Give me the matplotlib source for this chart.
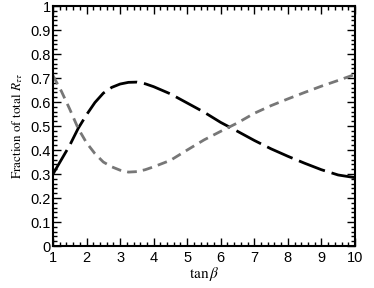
import matplotlib
matplotlib.use("Agg")
import matplotlib.pyplot as plt
from matplotlib.ticker import MultipleLocator, FuncFormatter

tan_beta = [1.0, 1.25, 1.5, 1.75, 2.0, 2.25, 2.5, 2.75, 3.0, 3.25, 3.5, 3.75, 4.0,
            4.5, 5.0, 5.5, 6.0, 6.5, 7.0, 7.5, 8.0, 8.5, 9.0, 9.5, 10.0]
frac_black = [0.30, 0.36, 0.42, 0.49, 0.547, 0.598, 0.637, 0.661, 0.675, 0.682, 0.683,
              0.676, 0.664, 0.634, 0.596, 0.558, 0.515, 0.478, 0.44, 0.405, 0.374,
              0.345, 0.318, 0.296, 0.285]
frac_gray = [0.71, 0.645, 0.57, 0.49, 0.43, 0.385, 0.35, 0.33, 0.316, 0.308, 0.310,
             0.318, 0.330, 0.357, 0.400, 0.442, 0.478, 0.513, 0.553, 0.585, 0.613,
             0.640, 0.666, 0.690, 0.715]

plt.rcParams['mathtext.fontset'] = 'stix'
fig = plt.figure(figsize=(3.74, 2.88), dpi=100)
ax = fig.add_axes([0.1417, 0.1458, 0.949 - 0.1417, 0.979 - 0.1458])

ax.plot(tan_beta, frac_black, color='black', lw=2.0, dashes=(10, 2.5), solid_capstyle='butt')
ax.plot(tan_beta, frac_gray, color='#777777', lw=2.0, dashes=(3.5, 2.2), solid_capstyle='butt')

ax.set_xlim(1, 10)
ax.set_ylim(0, 1)
ax.xaxis.set_major_locator(MultipleLocator(1))
ax.xaxis.set_minor_locator(MultipleLocator(0.2))
ax.yaxis.set_major_locator(MultipleLocator(0.1))
ax.yaxis.set_minor_locator(MultipleLocator(0.02))
ax.yaxis.set_major_formatter(FuncFormatter(lambda v, p: ('%.1f' % v).rstrip('0').rstrip('.') if v not in (0, 1) else '%d' % round(v)))
ax.tick_params(which='both', direction='in', top=True, right=True, width=1.0)
ax.tick_params(which='major', length=6, labelsize=10.5)
ax.tick_params(axis='y', which='major', pad=1.5)
ax.tick_params(axis='x', which='major', pad=3.5)
ax.tick_params(which='minor', length=3)
for lab in ax.get_xticklabels() + ax.get_yticklabels():
    lab.set_fontfamily('Liberation Sans')
for s in ax.spines.values():
    s.set_linewidth(1.5)

ax.set_xlabel(r'$\mathrm{tan}\,\beta$', fontsize=11, labelpad=0)
ax.set_ylabel(r'$\mathrm{Fraction\ of\ total}\ R_{\tau\tau}$', fontsize=9.5, labelpad=4)

fig.savefig('out.png', dpi=100)
